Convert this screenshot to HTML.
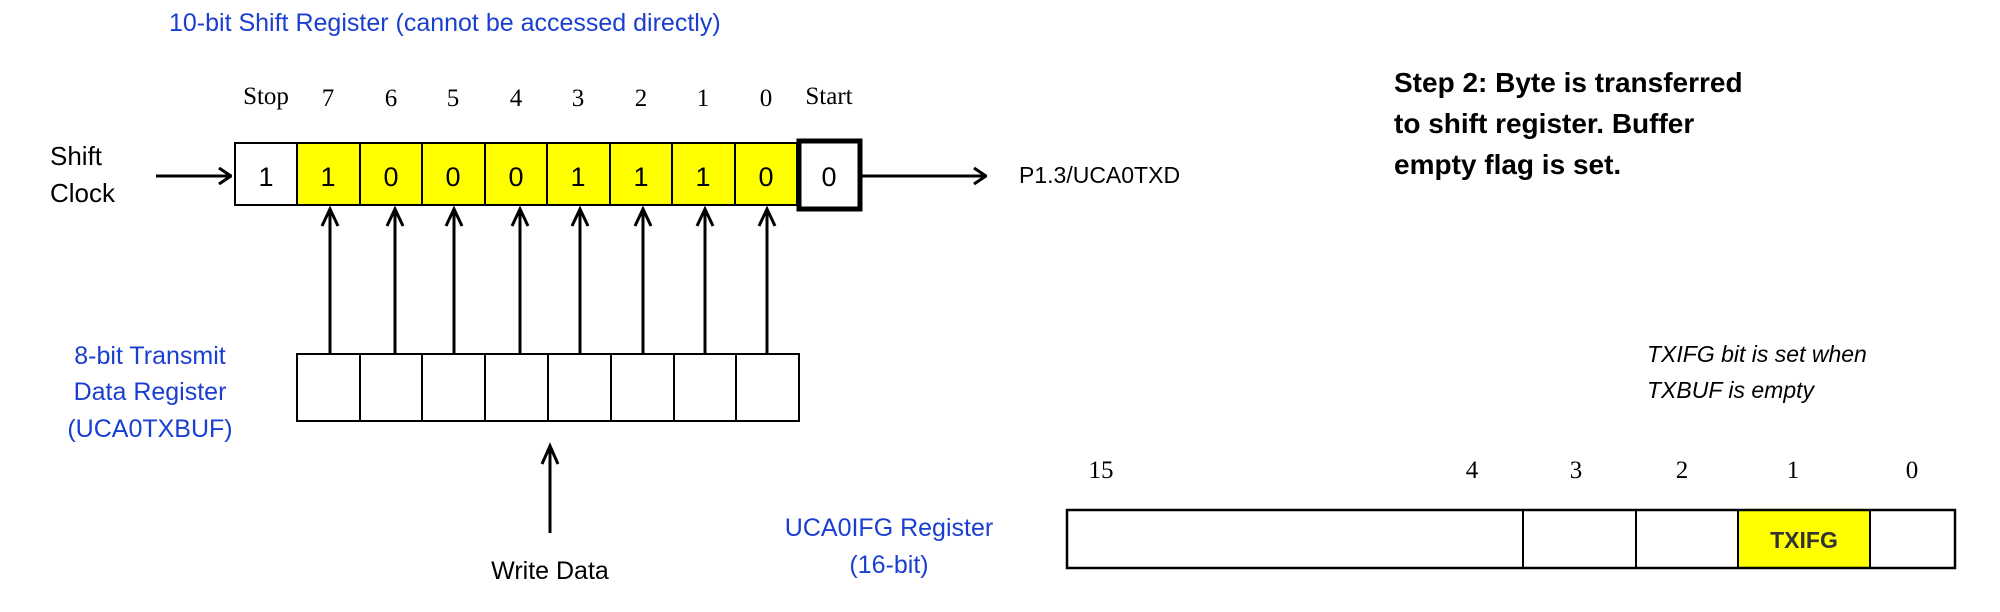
<!DOCTYPE html>
<html><head><meta charset="utf-8"><style>
html,body{margin:0;padding:0;background:#fff;}
svg{display:block;}
.s{font-family:"Liberation Sans",sans-serif;}
.r{font-family:"Liberation Serif",serif;}
</style></head><body>
<svg width="2000" height="612" viewBox="0 0 2000 612" xmlns="http://www.w3.org/2000/svg">
<defs>
<marker id="a" markerWidth="14" markerHeight="20" refX="13" refY="10" orient="auto" markerUnits="userSpaceOnUse">
<path d="M1,2 L13,10 L1,18" fill="none" stroke="#000" stroke-width="3"/>
</marker>
</defs>
<text class="s" x="169" y="31" font-size="25" fill="#1a3fd0">10-bit Shift Register (cannot be accessed directly)</text>
<g class="r" font-size="25" text-anchor="middle">
<text x="266" y="104">Stop</text><text x="328" y="106">7</text><text x="391" y="106">6</text><text x="453" y="106">5</text><text x="516" y="106">4</text><text x="578" y="106">3</text><text x="641" y="106">2</text><text x="703" y="106">1</text><text x="766" y="106">0</text><text x="829" y="104">Start</text>
</g>
<text class="s" x="50" y="165" font-size="26">Shift</text>
<text class="s" x="50" y="202" font-size="26">Clock</text>
<line x1="156" y1="176" x2="231" y2="176" stroke="#000" stroke-width="3" marker-end="url(#a)"/>
<rect x="297" y="143" width="500" height="62" fill="#ffff00"/>
<rect x="235" y="143" width="562" height="62" fill="none" stroke="#000" stroke-width="2"/>
<g stroke="#000" stroke-width="2">
<line x1="297" y1="143" x2="297" y2="205"/><line x1="360" y1="143" x2="360" y2="205"/><line x1="422" y1="143" x2="422" y2="205"/><line x1="485" y1="143" x2="485" y2="205"/><line x1="547" y1="143" x2="547" y2="205"/><line x1="610" y1="143" x2="610" y2="205"/><line x1="672" y1="143" x2="672" y2="205"/><line x1="735" y1="143" x2="735" y2="205"/>
</g>
<rect x="799" y="141" width="61" height="68" fill="#fff" stroke="#000" stroke-width="5"/>
<g class="s" font-size="27" text-anchor="middle">
<text x="266" y="186">1</text><text x="328" y="186">1</text><text x="391" y="186">0</text><text x="453" y="186">0</text><text x="516" y="186">0</text><text x="578" y="186">1</text><text x="641" y="186">1</text><text x="703" y="186">1</text><text x="766" y="186">0</text><text x="829" y="186">0</text>
</g>
<line x1="862" y1="176" x2="986" y2="176" stroke="#000" stroke-width="3" marker-end="url(#a)"/>
<text class="s" x="1019" y="183" font-size="23">P1.3/UCA0TXD</text>
<g stroke="#000" stroke-width="3">
<line x1="330" y1="353" x2="330" y2="209"/><polyline points="322,226 330,209 338,226" fill="none"/>
<line x1="395" y1="353" x2="395" y2="209"/><polyline points="387,226 395,209 403,226" fill="none"/>
<line x1="454" y1="353" x2="454" y2="209"/><polyline points="446,226 454,209 462,226" fill="none"/>
<line x1="520" y1="353" x2="520" y2="209"/><polyline points="512,226 520,209 528,226" fill="none"/>
<line x1="580" y1="353" x2="580" y2="209"/><polyline points="572,226 580,209 588,226" fill="none"/>
<line x1="643" y1="353" x2="643" y2="209"/><polyline points="635,226 643,209 651,226" fill="none"/>
<line x1="705" y1="353" x2="705" y2="209"/><polyline points="697,226 705,209 713,226" fill="none"/>
<line x1="767" y1="353" x2="767" y2="209"/><polyline points="759,226 767,209 775,226" fill="none"/>
<line x1="550" y1="533" x2="550" y2="446"/><polyline points="542,464 550,446 558,464" fill="none"/>
</g>
<rect x="297" y="354" width="502" height="67" fill="#fff" stroke="#000" stroke-width="2"/>
<g stroke="#000" stroke-width="2">
<line x1="360" y1="354" x2="360" y2="421"/><line x1="422" y1="354" x2="422" y2="421"/><line x1="485" y1="354" x2="485" y2="421"/><line x1="548" y1="354" x2="548" y2="421"/><line x1="611" y1="354" x2="611" y2="421"/><line x1="674" y1="354" x2="674" y2="421"/><line x1="736" y1="354" x2="736" y2="421"/>
</g>
<g class="s" font-size="25" fill="#1a3fd0" text-anchor="middle">
<text x="150" y="364">8-bit Transmit</text>
<text x="150" y="400">Data Register</text>
<text x="150" y="437">(UCA0TXBUF)</text>
<text x="889" y="536">UCA0IFG Register</text>
<text x="889" y="573">(16-bit)</text>
</g>
<text class="s" x="550" y="579" font-size="25" text-anchor="middle">Write Data</text>
<g class="s" font-size="28" font-weight="bold">
<text x="1394" y="92">Step 2:  Byte is transferred</text>
<text x="1394" y="133">to shift register.  Buffer</text>
<text x="1394" y="174">empty flag is set.</text>
</g>
<g class="s" font-size="23" font-style="italic">
<text x="1647" y="362">TXIFG bit is set when</text>
<text x="1647" y="398">TXBUF is empty</text>
</g>
<g class="r" font-size="25" text-anchor="middle">
<text x="1101" y="478">15</text><text x="1472" y="478">4</text><text x="1576" y="478">3</text><text x="1682" y="478">2</text><text x="1793" y="478">1</text><text x="1912" y="478">0</text>
</g>
<rect x="1738" y="510" width="132" height="58" fill="#ffff00"/>
<rect x="1067" y="510" width="888" height="58" fill="none" stroke="#000" stroke-width="2.5"/>
<g stroke="#000" stroke-width="2">
<line x1="1523" y1="510" x2="1523" y2="568"/><line x1="1636" y1="510" x2="1636" y2="568"/><line x1="1738" y1="510" x2="1738" y2="568"/><line x1="1870" y1="510" x2="1870" y2="568"/>
</g>
<text class="s" x="1804" y="548" font-size="23" font-weight="bold" text-anchor="middle" fill="#333">TXIFG</text>
</svg>
</body></html>
